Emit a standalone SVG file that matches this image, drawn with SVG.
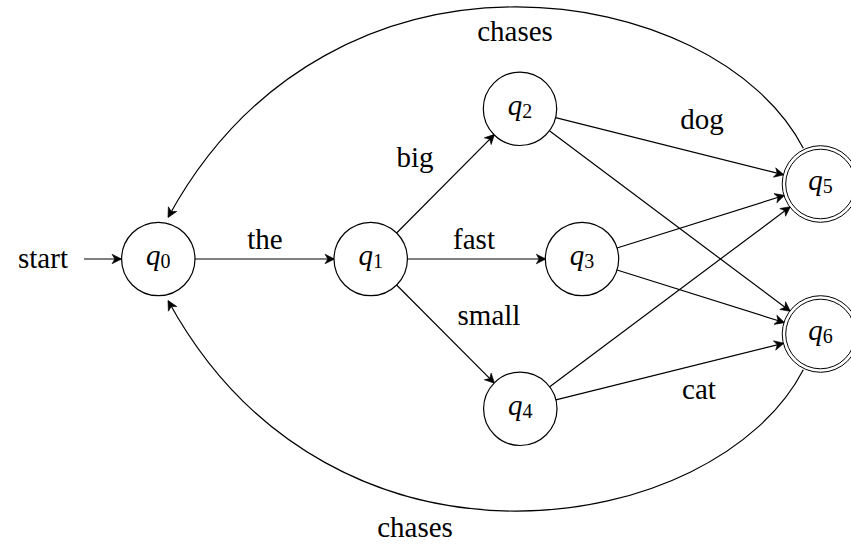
<svg xmlns="http://www.w3.org/2000/svg" width="851" height="545" viewBox="0 0 851 545">
<style>
.st{fill:#fff;stroke:#000;stroke-width:1.2}
.acc{fill:none;stroke:#000;stroke-width:1}
.e{fill:none;stroke:#000;stroke-width:1.2;marker-end:url(#ah)}
.lbl{text-anchor:middle}
.q{font-style:italic}
.sub{font-size:20px;font-style:normal}
</style>
<defs>
<marker id="ah" markerUnits="userSpaceOnUse" viewBox="-12 -7 14 14" markerWidth="14" markerHeight="14" refX="0" refY="0" orient="auto">
<path d="M0.6,0 L-9,-4.8 L-6.2,0 L-9,4.8 Z" fill="#000" stroke="#000" stroke-width="0.6" stroke-linejoin="round"/>
</marker>
</defs>
<g id="connectors">
<path class="e" d="M84,259 L121,259"/>
<path class="e" d="M195,259 L334,259"/>
<path class="e" d="M396.6,233 L494.1,134.8"/>
<path class="e" d="M407.4,259 L545.3,259"/>
<path class="e" d="M396.6,285 L494.1,382.8"/>
<path class="e" d="M555.6,117.7 L783.3,174.7"/>
<path class="e" d="M549.4,130.8 L789.9,311"/>
<path class="e" d="M617,248 L784,195.5"/>
<path class="e" d="M617,270 L784,322.5"/>
<path class="e" d="M549.7,386.8 L789.9,207"/>
<path class="e" d="M555.9,399.9 L783.3,343.3"/>
<path class="e" d="M803.3,148.3 C716.8,-19 332.7,-84.3 168.3,217"/>
<path class="e" d="M803.3,369.7 C716.8,537 332.7,602.3 168.3,301"/>
</g>
<g id="labels" font-family="Liberation Serif, Times New Roman, serif" font-size="29" fill="#000">
<text x="43" y="268" class="lbl">start</text>
<text x="265" y="249" class="lbl">the</text>
<text x="415" y="167" class="lbl">big</text>
<text x="474" y="249" class="lbl">fast</text>
<text x="489" y="325" class="lbl">small</text>
<text x="702" y="129" class="lbl">dog</text>
<text x="699" y="399" class="lbl">cat</text>
<text x="515" y="41" class="lbl">chases</text>
<text x="415" y="537" class="lbl">chases</text>
</g>
<g id="q0"><circle class="st" cx="158.3" cy="259" r="36.7"/><text font-family="Liberation Serif, serif" font-size="29" x="158.3" y="265" class="lbl"><tspan class="q">q</tspan><tspan class="sub" dy="3">0</tspan></text></g>
<g id="q1"><circle class="st" cx="370.7" cy="259" r="36.7"/><text font-family="Liberation Serif, serif" font-size="29" x="370.7" y="265" class="lbl"><tspan class="q">q</tspan><tspan class="sub" dy="3">1</tspan></text></g>
<g id="q2"><circle class="st" cx="520" cy="108.8" r="36.7"/><text font-family="Liberation Serif, serif" font-size="29" x="520" y="114.8" class="lbl"><tspan class="q">q</tspan><tspan class="sub" dy="3">2</tspan></text></g>
<g id="q3"><circle class="st" cx="582" cy="259" r="36.7"/><text font-family="Liberation Serif, serif" font-size="29" x="582" y="265" class="lbl"><tspan class="q">q</tspan><tspan class="sub" dy="3">3</tspan></text></g>
<g id="q4"><circle class="st" cx="520.3" cy="408.8" r="36.7"/><text font-family="Liberation Serif, serif" font-size="29" x="520.3" y="414.8" class="lbl"><tspan class="q">q</tspan><tspan class="sub" dy="3">4</tspan></text></g>
<g id="q5"><circle class="acc" style="fill:#fff" cx="820.5" cy="184" r="38.3"/><circle class="acc" cx="820.5" cy="184" r="34.8"/><text font-family="Liberation Serif, serif" font-size="29" x="820.5" y="190" class="lbl"><tspan class="q">q</tspan><tspan class="sub" dy="3">5</tspan></text></g>
<g id="q6"><circle class="acc" style="fill:#fff" cx="820.5" cy="334" r="38.3"/><circle class="acc" cx="820.5" cy="334" r="34.8"/><text font-family="Liberation Serif, serif" font-size="29" x="820.5" y="340" class="lbl"><tspan class="q">q</tspan><tspan class="sub" dy="3">6</tspan></text></g>
</svg>
